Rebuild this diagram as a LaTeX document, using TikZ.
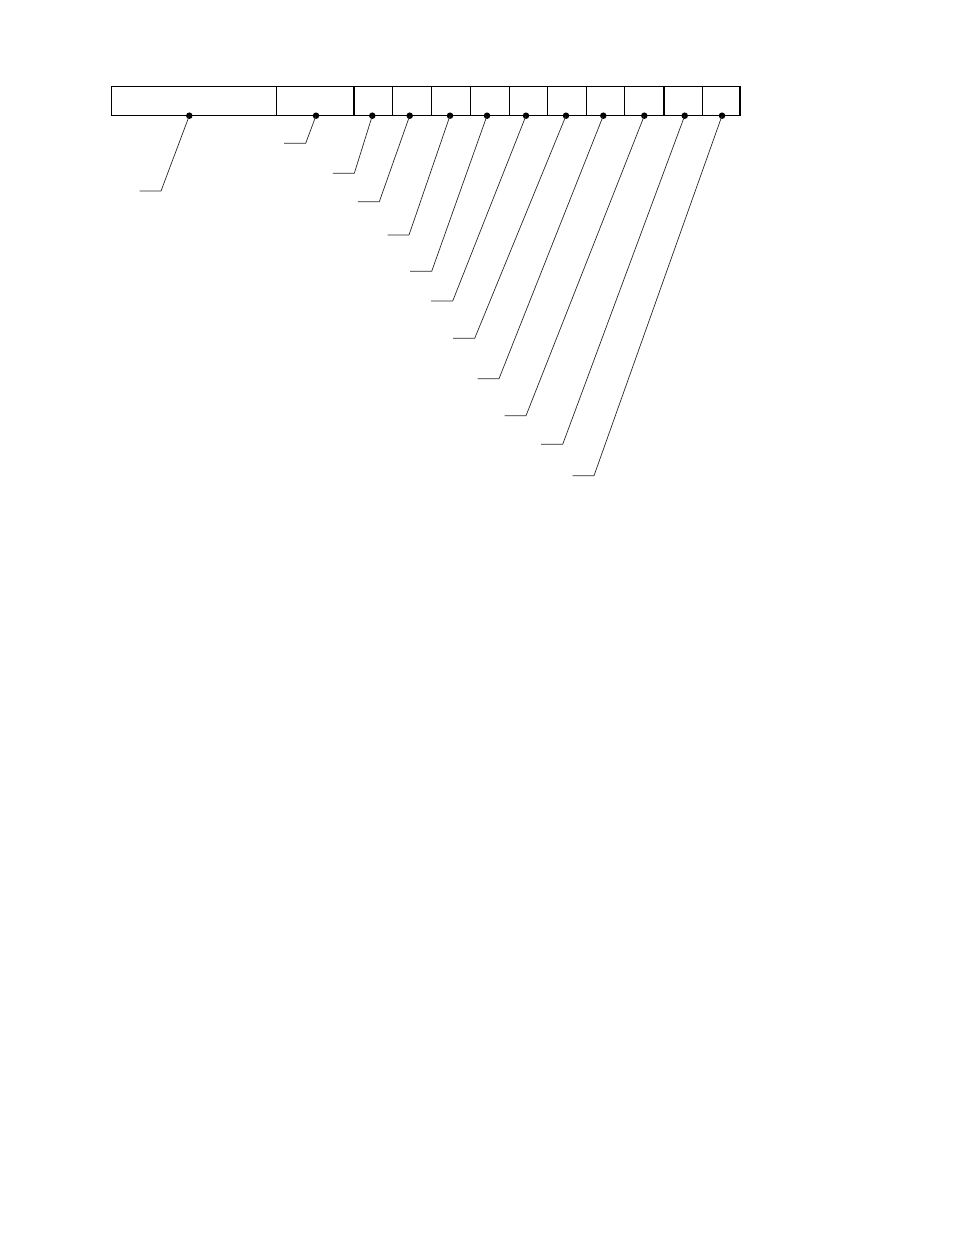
\documentclass[tikz,border=0pt]{standalone}
\begin{document}
\begin{tikzpicture}[x=1pt,y=-1pt,
  frame/.style={line width=1.2pt},
  thindiv/.style={line width=0.7pt},
  thickdiv/.style={line width=1.4pt},
  dotnode/.style={circle,fill=black,inner sep=0pt,minimum size=6.5pt},
  leader/.style={line width=0.7pt,black!85}]
\useasboundingbox (0,0) rectangle (954,1235);
% outer frame
\draw[frame] (111.7,86.7) rectangle (740,115.7);
% dividers
\foreach \x in {276.7,431.7,470.7,547.7,586.3,702.3}
  \draw[thindiv] (\x,86.7) -- (\x,115.7);
\foreach \x in {354,392.7,509.3,624.7,664}
  \draw[thickdiv] (\x,86.7) -- (\x,115.7);
% dots
\foreach \n/\x in {1/189.3,2/316,3/372.3,4/409.7,5/450,6/487,7/526,8/566,9/603.3,10/644.3,11/684.7,12/722}
  \node[dotnode] (d\n) at (\x,115.7) {};
% leader ends
\foreach \n/\x/\y in {1/161/191,2/305.7/143.3,3/354.3/173.3,4/379.3/201.7,5/409/235,6/431.7/271.3,7/452.7/301,8/474.7/338.3,9/499/378.7,10/526/415.7,11/562.7/444.3,12/594/475.7}{
  \coordinate (e\n) at (\x,\y);
  \coordinate (t\n) at (\x-21.5,\y);
  \draw[leader] (d\n.center) -- (e\n) -- (t\n);
}
\end{tikzpicture}
\end{document}
